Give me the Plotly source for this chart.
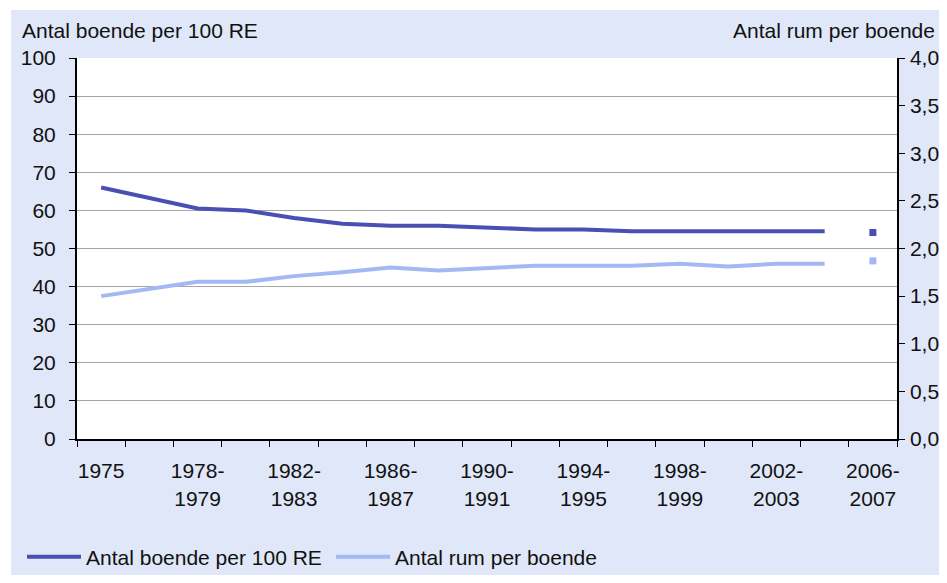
import plotly.graph_objects as go

categories = ["1975", "1976-1977", "1978-1979", "1980-1981", "1982-1983", "1984-1985",
              "1986-1987", "1988-1989", "1990-1991", "1992-1993", "1994-1995", "1996-1997",
              "1998-1999", "2000-2001", "2002-2003", "2004-2005", "2006-2007"]
tick_labels = ["1975", "", "1978-<br>1979", "", "1982-<br>1983", "", "1986-<br>1987", "",
               "1990-<br>1991", "", "1994-<br>1995", "", "1998-<br>1999", "", "2002-<br>2003", "",
               "2006-<br>2007"]

boende = [66, 63.2, 60.5, 60, 58, 56.5, 56, 56, 55.5, 55, 55, 54.5, 54.5, 54.5, 54.5, 54.5]
boende_last = [54.2]
rum = [1.50, 1.57, 1.65, 1.65, 1.71, 1.75, 1.80, 1.77, 1.80, 1.82, 1.82, 1.82, 1.84, 1.81, 1.84, 1.84]
rum_last = [1.87]

dark = "#4b4fb3"
light = "#a2b9f4"
bg = "#dfe7f8"
font = dict(family="Liberation Sans, Arial, sans-serif", size=21, color="#111111")

# page has an 8px body margin on every side; figure placed at page (8, 8)
OFF = 8
W, H = 947 - 2 * OFF, 583 - 2 * OFF
L, T = 77 - OFF, 58 - OFF
R = W - (897 - OFF)
B = H - (439 - OFF)
pw, ph = W - L - R, H - T - B

def px_x(px):
    return (px - OFF - L) / pw

def px_y(py):
    return (H - B - (py - OFF)) / ph

fig = go.Figure()
fig.add_trace(go.Scatter(x=categories[:16], y=boende, mode="lines", name="Antal boende per 100 RE",
                         line=dict(color=dark, width=4)))
fig.add_trace(go.Scatter(x=categories[16:], y=boende_last, mode="markers", showlegend=False,
                         marker=dict(color=dark, symbol="square", size=7)))
fig.add_trace(go.Scatter(x=categories[:16], y=rum, mode="lines", name="Antal rum per boende",
                         line=dict(color=light, width=4), yaxis="y2"))
fig.add_trace(go.Scatter(x=categories[16:], y=rum_last, mode="markers", showlegend=False,
                         marker=dict(color=light, symbol="square", size=7), yaxis="y2"))

fig.update_layout(
    width=W, height=H,
    margin=dict(l=L, r=R, t=T, b=B, autoexpand=False),
    paper_bgcolor="white",
    plot_bgcolor="rgba(0,0,0,0)",
    font=font,
    separators=", ",
    shapes=[
        dict(type="rect", xref="paper", yref="paper", x0=px_x(11), x1=px_x(980),
             y0=px_y(620), y1=px_y(10), fillcolor=bg, line=dict(width=0), layer="below"),
        dict(type="rect", xref="paper", yref="paper", x0=0, x1=1, y0=0, y1=1,
             fillcolor="white", line=dict(width=0), layer="below"),
    ],
    xaxis=dict(
        type="category", categoryorder="array", categoryarray=categories,
        range=[-0.5, 16.5], automargin=False,
        tickmode="array", tickvals=categories, ticktext=tick_labels,
        tickson="boundaries", ticks="outside", ticklen=6, tickcolor="black",
        tickangle=0,
        showline=True, linecolor="black", linewidth=2,
        showgrid=False, ticklabelstandoff=12,
    ),
    yaxis=dict(
        range=[0, 100], dtick=10, tick0=0, automargin=False,
        ticks="outside", ticklen=6, tickcolor="black",
        showline=True, linecolor="black", linewidth=2,
        showgrid=True, gridcolor="#a6a6a6", gridwidth=1,
        zeroline=False, ticklabelstandoff=9,
    ),
    yaxis2=dict(
        overlaying="y", side="right", automargin=False,
        range=[0, 4], dtick=0.5, tick0=0, tickformat=".1f",
        ticks="outside", ticklen=6, tickcolor="black",
        showline=True, linecolor="black", linewidth=1.5,
        showgrid=False, zeroline=False, ticklabelstandoff=1,
    ),
    legend=dict(orientation="h", xref="container", yref="container",
                x=(22 - OFF) / W, y=1 - (557 - OFF) / H, xanchor="left", yanchor="middle",
                bgcolor="rgba(0,0,0,0)", font=font, itemwidth=54, tracegroupgap=0,
                entrywidth=240, entrywidthmode="pixels"),
    annotations=[
        dict(text="Antal boende per 100 RE", xref="paper", yref="paper", x=px_x(20), y=px_y(30),
             xanchor="left", yanchor="middle", showarrow=False, font=font),
        dict(text="Antal rum per boende", xref="paper", yref="paper", x=px_x(937), y=px_y(30),
             xanchor="right", yanchor="middle", showarrow=False, font=font),
    ],
)

fig.write_html("out.html")
